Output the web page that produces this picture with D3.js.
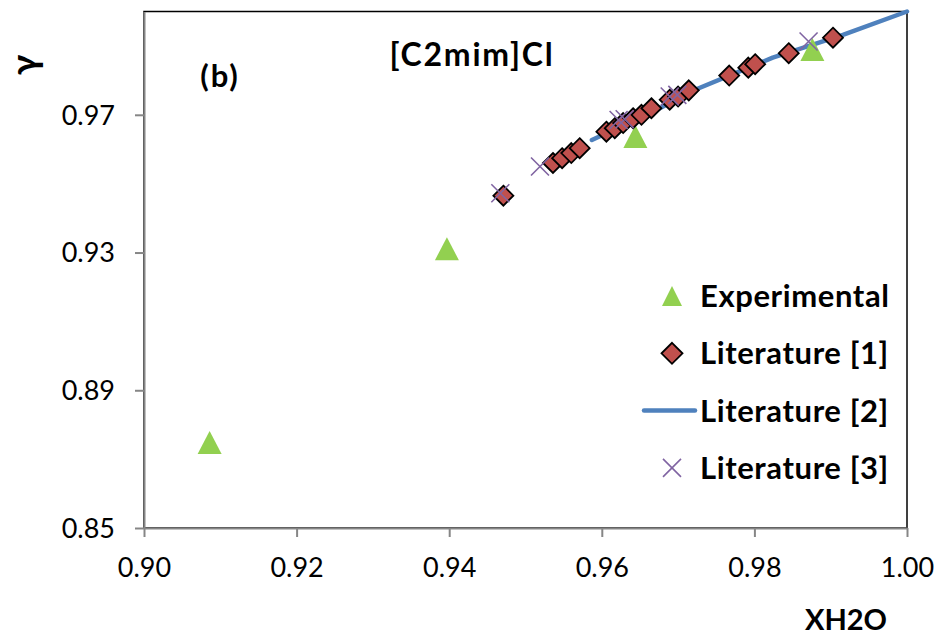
<!DOCTYPE html>
<html>
<head>
<meta charset="utf-8">
<script src="https://cdn.jsdelivr.net/npm/d3@7"></script>
<style>
  html, body { margin: 0; padding: 0; background: #fff; }
  svg { display: block; }
  text { font-family: Lato, "Open Sans", sans-serif; fill: #000; }
</style>
</head>
<body>
<svg id="chart" width="940" height="637"></svg>
<script>
// Activity coefficient of water in [C2mim]Cl solutions
const expX  = [0.9086, 0.9397, 0.9644, 0.9876];
const expY  = [0.8748, 0.9311, 0.9637, 0.9890];

const lit1X = [0.9471, 0.9536, 0.9548, 0.9560, 0.9571, 0.9606, 0.9617, 0.9628, 0.9641, 0.9652,
               0.9665, 0.9689, 0.9700, 0.9714, 0.9767, 0.9792, 0.9801, 0.9845, 0.9903];
const lit1Y = [0.9465, 0.9560, 0.9574, 0.9589, 0.9603, 0.9651, 0.9661, 0.9676, 0.9690, 0.9700,
               0.9719, 0.9744, 0.9753, 0.9771, 0.9814, 0.9837, 0.9847, 0.9879, 0.9924];

const lit2X = [0.9587, 0.9676, 0.9716, 0.9824, 0.9916, 1.0000];
const lit2Y = [0.9627, 0.9719, 0.9767, 0.9866, 0.9932, 1.0000];

const lit3X = [0.9467, 0.9519, 0.9622, 0.9630, 0.9689, 0.9699, 0.9871];
const lit3Y = [0.9472, 0.9550, 0.9685, 0.9687, 0.9753, 0.9758, 0.9913];

const xTicks = [0.90, 0.92, 0.94, 0.96, 0.98, 1.00];
const yTicks = [0.85, 0.89, 0.93, 0.97];

const seriesNames = ["Experimental", "Literature [1]", "Literature [2]", "Literature [3]"];

const svg = d3.select("#chart");

const plotL = 144, plotR = 907, plotT = 11.5, plotB = 528;
const x = d3.scaleLinear().domain([0.90, 1.00]).range([plotL, plotR]);
const y = d3.scaleLinear().domain([0.85, 1.00]).range([plotB, plotT]);

const axisGray = "#868686";
const green = "#92D050", red = "#C0504D", blue = "#4F81BD", purple = "#8064A2";

// plot-area frame
svg.append("rect")
  .attr("x", plotL).attr("y", plotT)
  .attr("width", plotR - plotL).attr("height", plotB - plotT)
  .attr("fill", "none").attr("stroke", "#000").attr("stroke-width", 1.5);

// axes
const fmt = d3.format(".2f");
const xAxis = svg.append("g")
  .attr("transform", `translate(0,${plotB})`)
  .call(d3.axisBottom(x).tickValues(xTicks).tickFormat(fmt).tickSize(9).tickSizeOuter(0));
const yAxis = svg.append("g")
  .attr("transform", `translate(${plotL},0)`)
  .call(d3.axisLeft(y).tickValues(yTicks).tickFormat(fmt).tickSize(9).tickSizeOuter(0));

[xAxis, yAxis].forEach(g => {
  g.select(".domain").attr("stroke", axisGray).attr("stroke-width", 2);
  g.selectAll(".tick line").attr("stroke", axisGray).attr("stroke-width", 2);
  g.selectAll(".tick text")
    .attr("font-family", "Lato, 'Open Sans', sans-serif")
    .attr("font-size", 27).attr("fill", "#000");
});
xAxis.selectAll(".tick text").attr("y", 49).attr("dy", 0);
yAxis.selectAll(".tick text").attr("x", -29).attr("dy", "0.35em");

// marker shapes
const triPath = "M0,-11.5L12,11.5L-12,11.5Z";
const diaPath = "M0,-10L10,0L0,10L-10,0Z";
const crossPath = "M-9,-9L9,9M-9,9L9,-9";

// Literature [2] curve
const line = d3.line().x(d => x(d[0])).y(d => y(d[1]));
svg.append("path")
  .datum(d3.zip(lit2X, lit2Y))
  .attr("d", line)
  .attr("fill", "none").attr("stroke", blue).attr("stroke-width", 4.5)
  .attr("stroke-linecap", "round").attr("stroke-linejoin", "round");

// Experimental
svg.append("g").selectAll("path")
  .data(d3.zip(expX, expY)).join("path")
  .attr("transform", d => `translate(${x(d[0])},${y(d[1])})`)
  .attr("d", triPath).attr("fill", green);

// Literature [1]
svg.append("g").selectAll("path")
  .data(d3.zip(lit1X, lit1Y)).join("path")
  .attr("transform", d => `translate(${x(d[0])},${y(d[1])})`)
  .attr("d", diaPath).attr("fill", red)
  .attr("stroke", "#000").attr("stroke-width", 1.8).attr("stroke-linejoin", "miter");

// Literature [3]
svg.append("g").selectAll("path")
  .data(d3.zip(lit3X, lit3Y)).join("path")
  .attr("transform", d => `translate(${x(d[0])},${y(d[1])})`)
  .attr("d", crossPath).attr("fill", "none")
  .attr("stroke", purple).attr("stroke-width", 1.6);

// legend
const legendTop = 296, legendStep = 57.3;
const lg = svg.append("g");
seriesNames.forEach((name, i) => {
  const cy = legendTop + i * legendStep;
  const sym = lg.append("g").attr("transform", `translate(672,${cy})`);
  if (i === 0) sym.append("path").attr("d", "M0,-10L10,10L-10,10Z").attr("fill", green);
  if (i === 1) sym.append("path").attr("d", "M0,-10.5L10.5,0L0,10.5L-10.5,0Z").attr("fill", red)
                 .attr("stroke", "#000").attr("stroke-width", 1.8);
  if (i === 2) sym.append("line").attr("x1", -28).attr("x2", 23).attr("y1", 0).attr("y2", 0)
                 .attr("stroke", blue).attr("stroke-width", 4.5).attr("stroke-linecap", "round");
  if (i === 3) sym.append("path").attr("d", "M-9,-9L9,9M-9,9L9,-9").attr("fill", "none")
                 .attr("stroke", purple).attr("stroke-width", 1.6);
  lg.append("text").attr("x", 700).attr("y", cy + 11)
    .attr("font-size", 31).attr("font-weight", "bold")
    .attr("letter-spacing", 0.6).text(name);
});

// titles and annotations
svg.append("text").attr("x", 472).attr("y", 66).attr("text-anchor", "middle")
  .attr("font-size", 32).attr("font-weight", "bold").attr("letter-spacing", 1.8)
  .text("[C2mim]Cl");
svg.append("text").attr("x", 220).attr("y", 87).attr("text-anchor", "middle")
  .attr("font-size", 31).attr("font-weight", "bold").attr("letter-spacing", 2)
  .text("(b)");
svg.append("text").attr("x", 846).attr("y", 630).attr("text-anchor", "middle")
  .attr("font-size", 29).attr("font-weight", "bold").text("XH2O");
svg.append("text")
  .attr("transform", "translate(37,65) rotate(-90)")
  .attr("text-anchor", "middle")
  .attr("font-size", 36).attr("font-weight", "bold").text("γ");
</script>
</body>
</html>
